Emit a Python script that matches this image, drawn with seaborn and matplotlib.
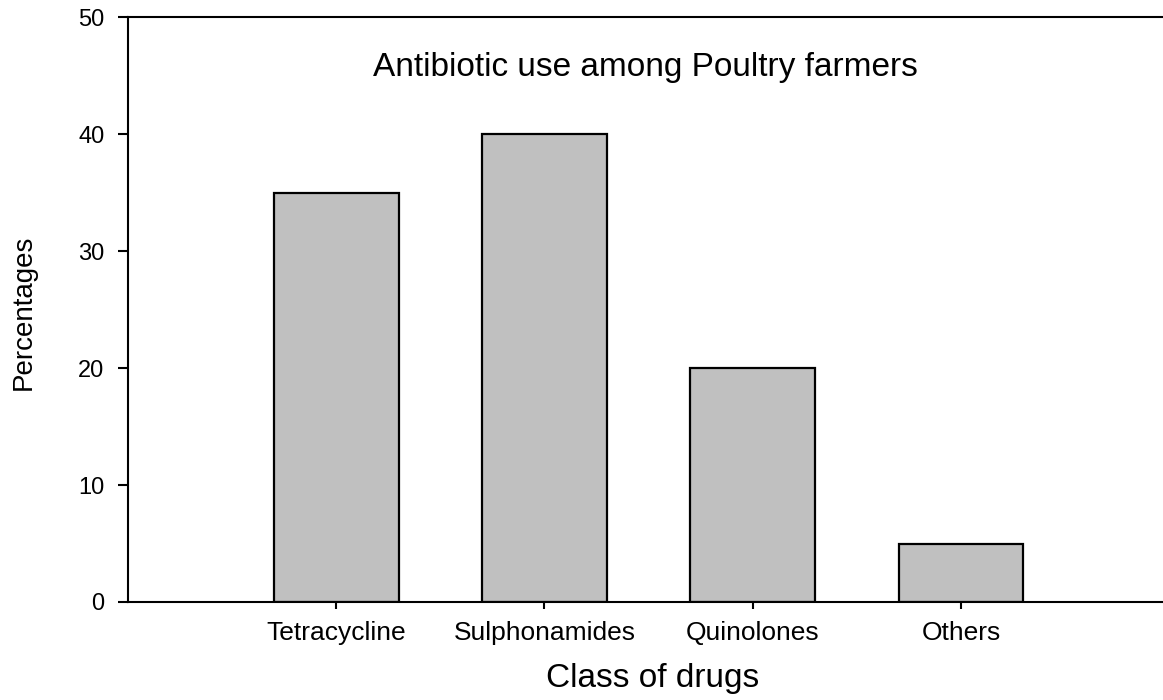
import matplotlib
matplotlib.use("Agg")
import matplotlib.pyplot as plt
import seaborn as sns
import pandas as pd

categories = ["Tetracycline", "Sulphonamides", "Quinolones", "Others"]
percentages = [35, 40, 20, 5]
y_ticks = [0, 10, 20, 30, 40, 50]

sns.set_style("ticks")
plt.rcParams["font.family"] = ["Liberation Sans", "DejaVu Sans"]

df = pd.DataFrame({"Class of drugs": categories, "Percentages": percentages})

fig = plt.figure(figsize=(11.63, 7.0), dpi=100)
ax = fig.add_axes([0.110, 0.14, 0.890, 0.8357])

sns.barplot(data=df, x="Class of drugs", y="Percentages", color="#C0C0C0",
            saturation=1, edgecolor="black", linewidth=1.6, width=0.6, ax=ax)

ax.set_xlim(-1.0, 3.97)
ax.set_ylim(0, 50)
ax.set_yticks(y_ticks)
ax.set_yticklabels([str(t) for t in y_ticks])

for side in ["left", "bottom", "top"]:
    ax.spines[side].set_visible(True)
    ax.spines[side].set_color("black")
    ax.spines[side].set_linewidth(1.5)
ax.spines["right"].set_visible(False)

ax.tick_params(axis="y", direction="out", length=7, width=1.5, pad=10,
               labelsize=17, colors="black", right=False)
ax.tick_params(axis="x", direction="out", length=5, width=1.5, pad=9,
               labelsize=19, colors="black", top=False)

ax.set_xlabel("Class of drugs", fontsize=24, color="black")
ax.set_ylabel("Percentages", fontsize=20, color="black")
ax.xaxis.set_label_coords(0.507, -0.104)
ax.yaxis.set_label_coords(-0.088, 0.496)

ax.text(0.5, 0.913, "Antibiotic use among Poultry farmers", fontsize=24,
        ha="center", va="center", transform=ax.transAxes, color="black")

fig.savefig("out.png", dpi=100)
